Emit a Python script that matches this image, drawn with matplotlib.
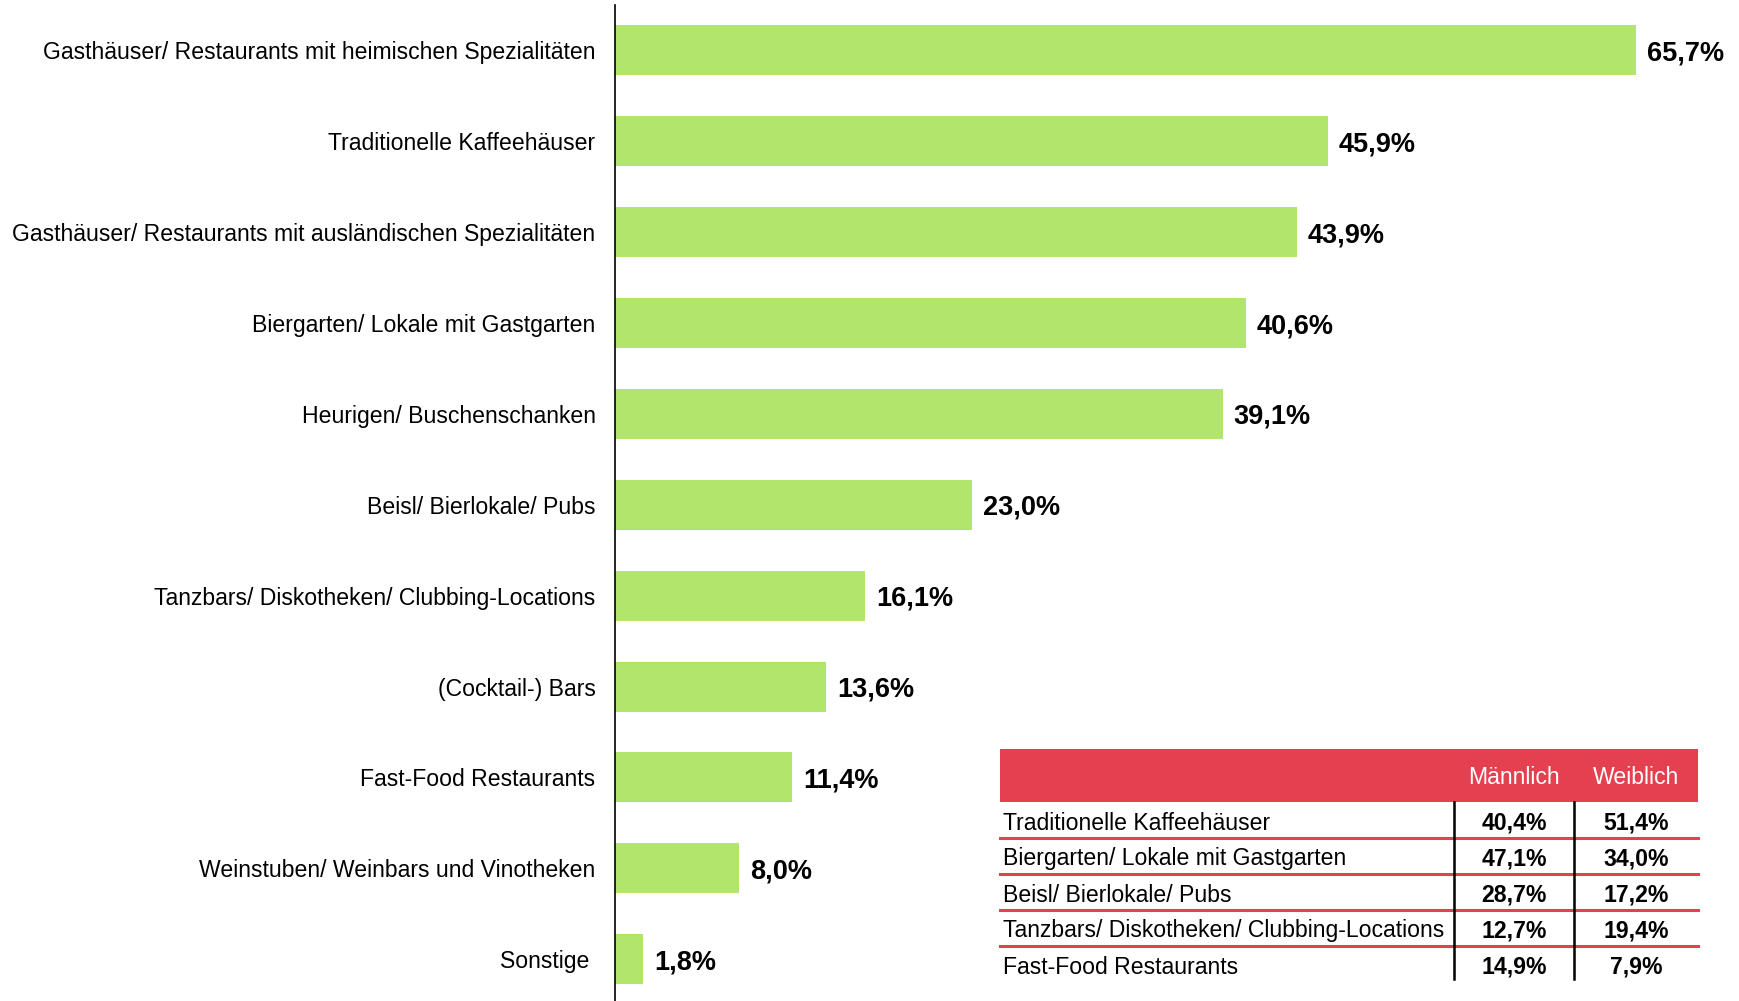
import matplotlib.pyplot as plt
from matplotlib.patches import Rectangle

plt.rcParams["font.family"] = ["Liberation Sans", "DejaVu Sans"]

CATEGORIES = [
    "Gasthäuser/ Restaurants mit heimischen Spezialitäten",
    "Traditionelle Kaffeehäuser",
    "Gasthäuser/ Restaurants mit ausländischen Spezialitäten",
    "Biergarten/ Lokale mit Gastgarten",
    "Heurigen/ Buschenschanken",
    "Beisl/ Bierlokale/ Pubs",
    "Tanzbars/ Diskotheken/ Clubbing-Locations",
    "(Cocktail-) Bars",
    "Fast-Food Restaurants",
    "Weinstuben/ Weinbars und Vinotheken",
    "Sonstige ",
]
VALUES = [65.7, 45.9, 43.9, 40.6, 39.1, 23.0, 16.1, 13.6, 11.4, 8.0, 1.8]

TABLE_ROWS = [
    "Traditionelle Kaffeehäuser",
    "Biergarten/ Lokale mit Gastgarten",
    "Beisl/ Bierlokale/ Pubs",
    "Tanzbars/ Diskotheken/ Clubbing-Locations",
    "Fast-Food Restaurants",
]
MALE = [40.4, 47.1, 28.7, 12.7, 14.9]
FEMALE = [51.4, 34.0, 17.2, 19.4, 7.9]

BAR_COLOR = "#b2e56b"
RED = "#e5404f"

W, H = 1740, 1001


def pct(v):
    return f"{v:.1f}".replace(".", ",") + "%"


fig = plt.figure(figsize=(W / 100, H / 100), dpi=100)
ax = fig.add_axes([615 / W, 0, 1 - 615 / W, 996 / H])

y = list(range(len(CATEGORIES)))
ax.barh(y, VALUES, height=0.55, color=BAR_COLOR)
ax.set_xlim(0, 72.4)
ax.set_ylim(10.46, -0.5)

for yi, v in zip(y, VALUES):
    ax.text(v + 0.7, yi, pct(v), va="center_baseline", ha="left",
            fontsize=19.5, fontweight="bold")

ax.set_yticks(y)
ax.set_yticklabels(CATEGORIES, fontsize=16.6)
ax.tick_params(axis="y", length=0, pad=14)
ax.set_xticks([])
for s in ["top", "right", "bottom"]:
    ax.spines[s].set_visible(False)
ax.spines["left"].set_linewidth(1.2)

# table overlay in pixel coordinates
tab = fig.add_axes([0, 0, 1, 1])
tab.set_xlim(0, W)
tab.set_ylim(H, 0)
tab.axis("off")

x0, x1 = 1000, 1698
col1, col2 = 1454, 1574
mx, fx = 1514, 1636
head_top, head_bot = 749, 802
row_h = 36
fs = 16.6

tab.add_patch(Rectangle((x0, head_top), x1 - x0, head_bot - head_top,
                        color=RED, lw=0))
tab.text(mx, 778, "Männlich", color="white", ha="center", va="center",
         fontsize=fs)
tab.text(fx, 778, "Weiblich", color="white", ha="center", va="center",
         fontsize=fs)

for i, (name, m, f) in enumerate(zip(TABLE_ROWS, MALE, FEMALE)):
    cy = head_bot + row_h * i + row_h / 2 + 3
    tab.text(x0 + 3, cy, name, ha="left", va="center", fontsize=fs)
    tab.text(mx, cy, pct(m), ha="center", va="center", fontsize=fs,
             fontweight="bold")
    tab.text(fx, cy, pct(f), ha="center", va="center", fontsize=fs,
             fontweight="bold")
    if i < len(TABLE_ROWS) - 1:
        ly = head_bot + row_h * (i + 1)
        tab.plot([x0, x1], [ly, ly], color=RED, lw=2.2)

for cx in (col1, col2):
    tab.plot([cx, cx], [head_bot, head_bot + row_h * 5 - 3], color="black",
             lw=1.8)

fig.savefig("out.png", dpi=100)
